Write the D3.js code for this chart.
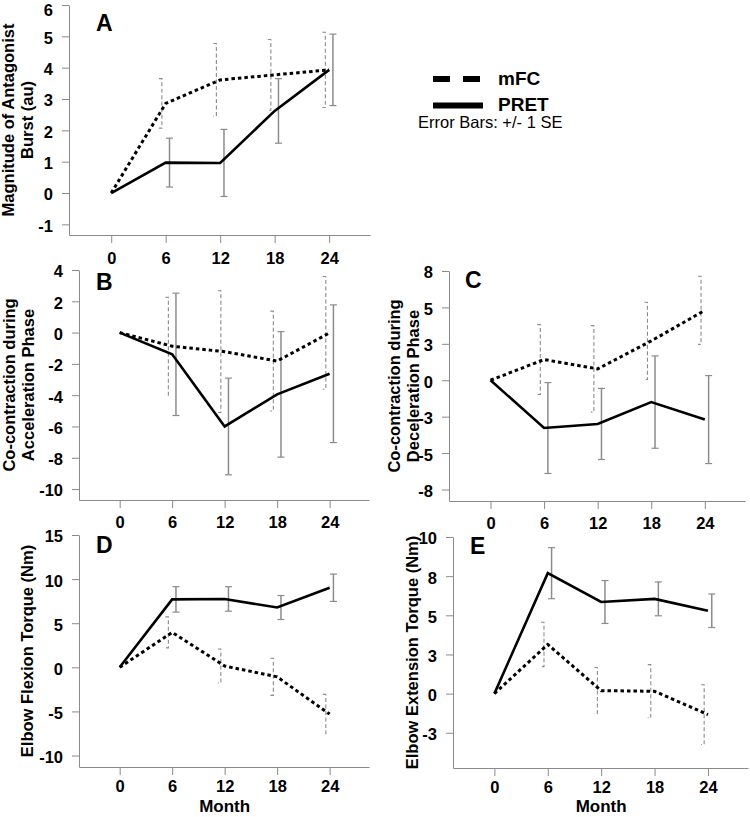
<!DOCTYPE html>
<html><head><meta charset="utf-8">
<script src="https://cdn.jsdelivr.net/npm/d3@7"></script>
<style>
body{margin:0;background:#fff;}
svg{display:block;font-family:"Liberation Sans",Arial,sans-serif;}
</style></head>
<body><svg id="c" width="750" height="817"></svg>
<script>
const months = [0, 6, 12, 18, 24];
const monthLabels = ["0", "6", "12", "18", "24"];
const seriesNames = ["mFC", "PRET"];

const A_mfc = [0, 2.86, 3.61, 3.77, 3.93];
const A_mfc_se = [0, 0.79, 1.16, 1.13, 1.20];
const A_pret = [0, 0.97, 0.96, 2.62, 3.93];
const A_pret_se = [0, 0.78, 1.07, 1.03, 1.14];

const B_mfc = [0, -0.87, -1.22, -1.82, -0.02];
const B_mfc_se = [0, 3.13, 3.89, 3.19, 3.60];
const B_pret = [0, -1.39, -6.00, -3.95, -2.63];
const B_pret_se = [0, 3.91, 3.09, 4.01, 4.40];

const C_mfc = [0, 1.42, 0.78, 2.70, 4.80];
const C_mfc_se = [0, 2.40, 2.97, 2.65, 2.34];
const C_pret = [0, -3.28, -3.00, -1.50, -2.70];
const C_pret_se = [0, 3.12, 2.44, 3.17, 3.02];

const D_mfc = [0, 3.96, 0.15, -1.08, -5.30];
const D_mfc_se = [0, 1.76, 1.93, 2.10, 2.23];
const D_pret = [0, 7.70, 7.75, 6.78, 9.02];
const D_pret_se = [0, 1.44, 1.39, 1.36, 1.55];

const E_mfc = [0, 3.14, 0.19, 0.15, -1.34];
const E_mfc_se = [0, 1.42, 1.48, 1.70, 1.91];
const E_pret = [0, 7.69, 5.85, 6.05, 5.29];
const E_pret_se = [0, 1.63, 1.37, 1.08, 1.07];

const A_ticks = [-1, 0, 1, 2, 3, 4, 5, 6];
const A_tickLabels = ["-1", "0", "1", "2", "3", "4", "5", "6"];
const B_ticks = [-10, -8, -6, -4, -2, 0, 2, 4];
const B_tickLabels = ["-10", "-8", "-6", "-4", "-2", "0", "2", "4"];
const C_ticks = [-7.5, -5, -2.5, 0, 2.5, 5, 7.5];
const C_tickLabels = ["-8", "-5", "-3", "0", "3", "5", "8"];
const D_ticks = [-10, -5, 0, 5, 10, 15];
const D_tickLabels = ["-10", "-5", "0", "5", "10", "15"];
const E_ticks = [-2.5, 0, 2.5, 5, 7.5, 10];
const E_tickLabels = ["-3", "0", "3", "5", "8", "10"];

const panels = [
  {id:"A", mfc:A_mfc, mfcSe:A_mfc_se, pret:A_pret, pretSe:A_pret_se, ticks:A_ticks, labels:A_tickLabels,
   ydom:[-1.34, 6], box:{l:69, r:370, t:5, b:235}, title:["Magnitude of Antagonist","Burst (au)"], tx:[14,33],
   letter:[96,31], month:false, xpad:9},
  {id:"B", mfc:B_mfc, mfcSe:B_mfc_se, pret:B_pret, pretSe:B_pret_se, ticks:B_ticks, labels:B_tickLabels,
   ydom:[-10.7, 4], box:{l:79, r:369, t:270, b:500}, title:["Co-contraction during","Acceleration Phase"], tx:[15,34],
   letter:[96,290], month:false, xpad:8},
  {id:"C", mfc:C_mfc, mfcSe:C_mfc_se, pret:C_pret, pretSe:C_pret_se, ticks:C_ticks, labels:C_tickLabels,
   ydom:[-8.29, 7.5], box:{l:449, r:745, t:271, b:501}, title:["Co-contraction during","Deceleration Phase"], tx:[400,419],
   letter:[465,288], month:false, xpad:8},
  {id:"D", mfc:D_mfc, mfcSe:D_mfc_se, pret:D_pret, pretSe:D_pret_se, ticks:D_ticks, labels:D_tickLabels,
   ydom:[-11.3, 15], box:{l:79, r:369, t:535, b:767}, title:["Elbow Flexion Torque (Nm)"], tx:[33],
   letter:[96,553], month:true, xpad:5},
  {id:"E", mfc:E_mfc, mfcSe:E_mfc_se, pret:E_pret, pretSe:E_pret_se, ticks:E_ticks, labels:E_tickLabels,
   ydom:[-4.75, 10], box:{l:453, r:748, t:537, b:768}, title:["Elbow Extension Torque (Nm)"], tx:[418],
   letter:[470,554], month:true, xpad:5}
];

const svg = d3.select("#c");
const AXIS = "#8a8a8a", ERR = "#8c8c8c";

panels.forEach(p => {
  const b = p.box;
  const x = d3.scaleLinear().domain([-4.65, 28.5]).range([b.l, b.r]);
  const y = d3.scaleLinear().domain(p.ydom).range([b.b, b.t]);
  const g = svg.append("g");

  const xa = g.append("g").attr("transform", `translate(0,${b.b})`)
    .call(d3.axisBottom(x).tickValues(months).tickFormat((d,i)=>monthLabels[i]).tickSize(8).tickSizeOuter(0).tickPadding(p.xpad));
  const ya = g.append("g").attr("transform", `translate(${b.l},0)`)
    .call(d3.axisLeft(y).tickValues(p.ticks).tickFormat((d,i)=>p.labels[i]).tickSize(7).tickSizeOuter(0).tickPadding(9));
  [xa, ya].forEach(a => {
    a.select(".domain").attr("stroke", AXIS).attr("stroke-width", 1);
    a.selectAll(".tick line").attr("stroke", AXIS).attr("stroke-width", 1);
    a.selectAll(".tick text").attr("fill", "#000").attr("font-size", 16.5).attr("font-weight", "bold")
      .attr("font-family", '"Liberation Sans",Arial,sans-serif');
  });
  ya.selectAll(".tick text").attr("dy", "0.42em");
  ya.selectAll(".tick text").filter(d => y(d) < 8).attr("dy", "0.62em");

  const errData = (vals, ses, off) => months.map((m,i)=>({m, v:vals[i], se:ses[i], off})).filter(d=>d.se>0);
  const mErr = errData(p.mfc, p.mfcSe, -3.8);
  const pErr = errData(p.pret, p.pretSe, 3.8);

  const eg = g.append("g");
  pErr.forEach(d => {
    const cx = x(d.m) + d.off, y1 = y(d.v + d.se), y2 = y(d.v - d.se);
    eg.append("line").attr("x1",cx).attr("x2",cx).attr("y1",y1).attr("y2",y2).attr("stroke",ERR).attr("stroke-width",1.5);
    [y1,y2].forEach(yy => eg.append("line").attr("x1",cx-3.5).attr("x2",cx+3.5).attr("y1",yy).attr("y2",yy).attr("stroke",ERR).attr("stroke-width",1.2));
  });
  mErr.forEach(d => {
    const cx = x(d.m) + d.off, y1 = y(d.v + d.se), y2 = y(d.v - d.se);
    eg.append("path").attr("d", `M${cx-3},${y1}H${cx}V${y2}H${cx-3}`)
      .attr("fill","none").attr("stroke",ERR).attr("stroke-width",1.1).attr("stroke-dasharray","4,2.5");
  });

  const line = d3.line().x((d,i)=>x(months[i])).y(d=>y(d));
  g.append("path").datum(p.pret).attr("d", line).attr("fill","none").attr("stroke","#000").attr("stroke-width",2.6);
  g.append("path").datum(p.mfc).attr("d", line).attr("fill","none").attr("stroke","#000").attr("stroke-width",3)
    .attr("stroke-dasharray","3.5,3");

  g.append("text").attr("x", p.letter[0]).attr("y", p.letter[1]).text(p.id)
    .attr("font-size", 23).attr("font-weight","bold");

  const cy = (b.t + b.b) / 2;
  p.title.forEach((t,i) => {
    g.append("text").attr("transform", `translate(${p.tx[i]},${cy}) rotate(-90)`)
      .attr("text-anchor","middle").attr("font-size",16.5).attr("font-weight","bold").text(t);
  });

  if (p.month) {
    g.append("text").attr("x", x(12)).attr("y", 812).attr("text-anchor","middle")
      .attr("font-size",17).attr("font-weight","bold").text("Month");
  }
});

const lg = svg.append("g");
lg.append("line").attr("x1",433).attr("x2",481).attr("y1",79).attr("y2",79)
  .attr("stroke","#000").attr("stroke-width",6).attr("stroke-dasharray","17,13");
lg.append("line").attr("x1",433).attr("x2",483).attr("y1",105.5).attr("y2",105.5)
  .attr("stroke","#000").attr("stroke-width",6);
lg.append("text").attr("x",498).attr("y",85).attr("font-size",19).attr("font-weight","bold").text(seriesNames[0]);
lg.append("text").attr("x",498).attr("y",111).attr("font-size",19).attr("font-weight","bold").text(seriesNames[1]);
lg.append("text").attr("x",418).attr("y",128).attr("font-size",16.5).text("Error Bars: +/- 1 SE");
</script></body></html>
